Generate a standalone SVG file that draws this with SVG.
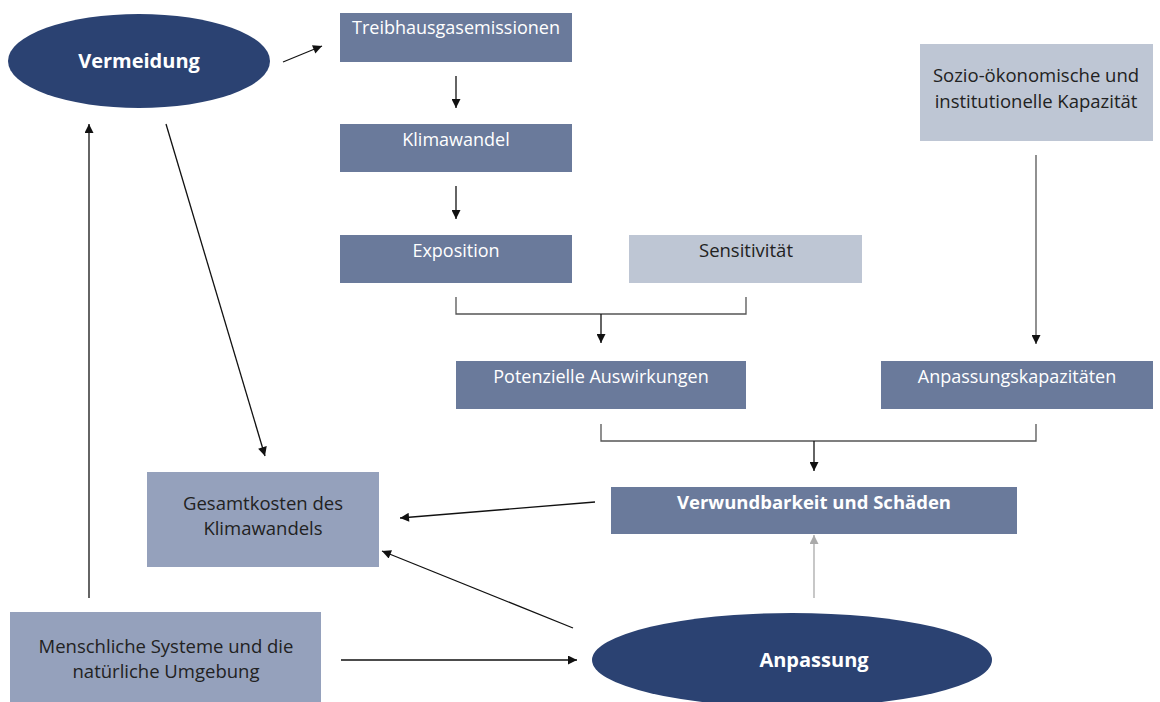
<svg xmlns="http://www.w3.org/2000/svg" width="1160" height="702" viewBox="0 0 1160 702">
<defs>
<marker id="ah" viewBox="0 0 10 10" refX="10" refY="5" markerWidth="10" markerHeight="9" markerUnits="userSpaceOnUse" orient="auto"><path d="M0,0 L10,5 L0,10 z" fill="#111"/></marker>
<marker id="ahg" viewBox="0 0 10 10" refX="10" refY="5" markerWidth="10" markerHeight="9" markerUnits="userSpaceOnUse" orient="auto"><path d="M0,0 L10,5 L0,10 z" fill="#aaa"/></marker>
</defs>
<style>
text{font-family:"Open Sans","Liberation Sans",sans-serif;text-anchor:middle}
.mid{fill:#6a7a9b}
.light{fill:#bec6d4}
.soft{fill:#95a1bc}
.dark{fill:#2b4272}
.w{fill:#fff;font-size:18px}
.k{fill:#222;font-size:18.5px}
.big{fill:#fff;font-size:20px;font-weight:bold}
.c{stroke:#111;stroke-width:1.3;fill:none}
</style>
<rect width="1160" height="702" fill="#fff"/>
<g id="vermeidung"><ellipse class="dark" cx="139" cy="61" rx="131" ry="47"/><text class="big" x="139" y="68">Vermeidung</text></g>
<g id="treibhaus"><rect class="mid" x="340" y="13" width="232" height="49"/><text class="w" x="456" y="34">Treibhausgasemissionen</text></g>
<g id="klimawandel"><rect class="mid" x="340" y="124" width="232" height="48"/><text class="w" x="456" y="146">Klimawandel</text></g>
<g id="exposition"><rect class="mid" x="340" y="235" width="232" height="48"/><text class="w" x="456" y="257">Exposition</text></g>
<g id="sensitivitaet"><rect class="light" x="629" y="235" width="233" height="48"/><text class="k" x="746" y="257">Sensitivität</text></g>
<g id="sozio"><rect class="light" x="920" y="44" width="233" height="97"/><text class="k" x="1036" y="82">Sozio-ökonomische und</text><text class="k" x="1036" y="108">institutionelle Kapazität</text></g>
<g id="potenzielle"><rect class="mid" x="456" y="361" width="290" height="48"/><text class="w" x="601" y="383">Potenzielle Auswirkungen</text></g>
<g id="anpassungskap"><rect class="mid" x="881" y="361" width="272" height="48"/><text class="w" x="1017" y="383">Anpassungskapazitäten</text></g>
<g id="verwundbarkeit"><rect class="mid" x="611" y="487" width="406" height="47"/><text class="w" x="814" y="509" style="font-weight:bold;font-size:18.5px">Verwundbarkeit und Schäden</text></g>
<g id="gesamtkosten"><rect class="soft" x="147" y="472" width="232" height="95"/><text class="k" x="263" y="510">Gesamtkosten des</text><text class="k" x="263" y="535">Klimawandels</text></g>
<g id="menschliche"><rect class="soft" x="10" y="612" width="311" height="90"/><text class="k" x="166" y="653">Menschliche Systeme und die</text><text class="k" x="166" y="678">natürliche Umgebung</text></g>
<g id="anpassung"><ellipse class="dark" cx="792" cy="660" rx="200" ry="47"/><text class="big" x="814" y="667">Anpassung</text></g>
<g id="connectors">
<line class="c" x1="283" y1="62" x2="322" y2="46" marker-end="url(#ah)"/>
<line class="c" x1="456" y1="76" x2="456" y2="108" marker-end="url(#ah)"/>
<line class="c" x1="456" y1="186" x2="456" y2="219" marker-end="url(#ah)"/>
<polyline class="c" points="456,297 456,314 746,314 746,297" style="stroke:#555"/>
<line class="c" x1="601" y1="314" x2="601" y2="343" marker-end="url(#ah)"/>
<line class="c" x1="1036" y1="155" x2="1036" y2="344" marker-end="url(#ah)" style="stroke:#555"/>
<polyline class="c" points="601,424 601,441 1036,441 1036,424" style="stroke:#555"/>
<line class="c" x1="814" y1="441" x2="814" y2="471" marker-end="url(#ah)"/>
<line class="c" x1="814" y1="598" x2="814" y2="535" marker-end="url(#ahg)" style="stroke:#aaa"/>
<line class="c" x1="166" y1="124" x2="265" y2="456" marker-end="url(#ah)"/>
<line class="c" x1="89" y1="598" x2="89" y2="124" marker-end="url(#ah)"/>
<line class="c" x1="595" y1="502" x2="400" y2="518" marker-end="url(#ah)"/>
<line class="c" x1="573" y1="628" x2="382" y2="551" marker-end="url(#ah)"/>
<line class="c" x1="341" y1="660" x2="577" y2="660" marker-end="url(#ah)"/>
</g>
</svg>
